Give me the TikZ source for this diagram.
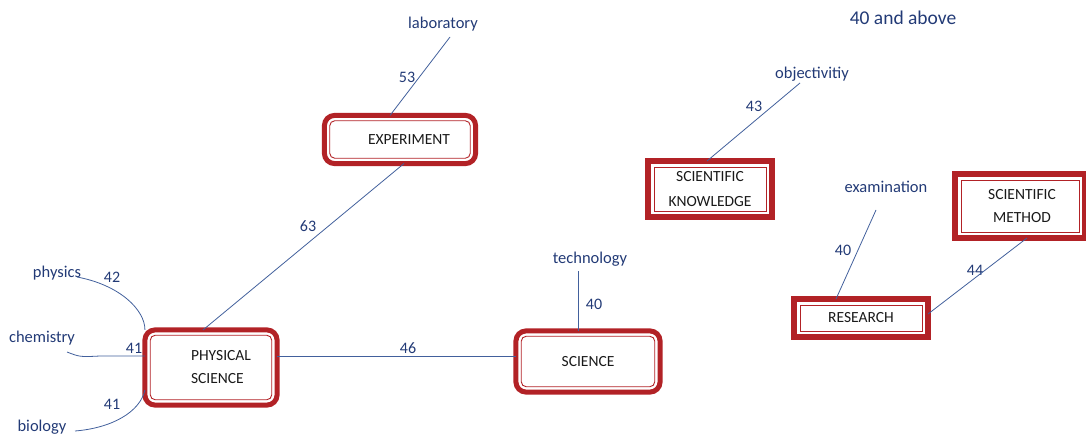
\documentclass[tikz,border=0pt]{standalone}
\usepackage{fontspec}
\setmainfont{Carlito}
\usetikzlibrary{fit,calc}
\definecolor{boxred}{RGB}{178,34,38}
\definecolor{linkblue}{RGB}{66,96,156}
\definecolor{txtblue}{RGB}{34,58,118}
\tikzset{
  inbox/.style={draw=boxred, line width=0.9pt, outer sep=0pt, inner sep=0pt, align=center,
    font=\fontsize{15.5}{23}\selectfont, text=black!90},
  rinbox/.style={inbox, rounded corners=5pt},
  routbox/.style={draw=boxred, line width=5pt, rounded corners=10pt, inner sep=5.3pt, outer sep=0pt},
  sinbox/.style={inbox},
  soutbox/.style={draw=boxred, line width=6.5pt, inner sep=6pt, outer sep=0pt},
  lbl/.style={text=txtblue, font=\fontsize{16.5}{18}\selectfont, inner sep=0pt},
  num/.style={text=txtblue, font=\fontsize{16}{18}\selectfont, inner sep=0pt},
  link/.style={draw=linkblue, line width=0.8pt}
}
\begin{document}
\begin{tikzpicture}[x=1pt,y=-1pt]
\useasboundingbox (0,0) rectangle (1086,439);
% boxes
\node[rinbox, minimum width=140.5pt, minimum height=37.5pt] (exp) at (400,139.5) {\hspace*{18pt}EXPERIMENT};
\node[routbox, fit=(exp)] (expo) {};
\node[rinbox, minimum width=121.5pt, minimum height=64.5pt, align=left] (ps) at (211,367.5) {\hspace*{20pt}PHYSICAL\\\hspace*{20pt}SCIENCE};
\node[routbox, fit=(ps)] (pso) {};
\node[rinbox, minimum width=133.5pt, minimum height=50.5pt] (sci) at (588,361.5) {SCIENCE};
\node[routbox, fit=(sci)] (scio) {};
\node[sinbox, minimum width=112pt, minimum height=44pt, font=\fontsize{15.5}{25}\selectfont] (sk) at (710,189) {SCIENTIFIC\\KNOWLEDGE};
\node[soutbox, fit=(sk)] (sko) {};
\node[sinbox, minimum width=118pt, minimum height=52pt] (sm) at (1020,206) {\hspace*{4pt}SCIENTIFIC\\\hspace*{4pt}METHOD};
\node[soutbox, fit=(sm)] (smo) {};
\node[sinbox, minimum width=122pt, minimum height=26pt] (res) at (861,318) {RESEARCH};
\node[soutbox, fit=(res)] (reso) {};
% labels
\node[lbl] (lab) at (443,24) {laboratory};
\node[lbl] (phy) at (57,273) {physics};
\node[lbl] (che) at (42,338) {chemistry};
\node[lbl] (bio) at (42,427) {biology};
\node[lbl] (tec) at (590,259) {technology};
\node[lbl] (obj) at (812,74) {objectivitiy};
\node[lbl] (exa) at (886,187) {examination};
\node[lbl, font=\fontsize{19.5}{22}\selectfont] (title) at (903,18) {40 and above};
% numbers
\node[num] (n53) at (407,77) {53};
\node[num] (n63) at (308,226) {63};
\node[num] (n42) at (112,277) {42};
\node[num] (n41a) at (134,348) {41};
\node[num] (n41b) at (112,404) {41};
\node[num] (n46) at (408,348) {46};
\node[num] (n40a) at (594,304) {40};
\node[num] (n43) at (754,106) {43};
\node[num] (n40b) at (843,250) {40};
\node[num] (n44) at (975,270) {44};
% free ends
\coordinate (labE) at (450,37);
\coordinate (phyE) at (77,277);
\coordinate (cheE) at (67,352);
\coordinate (bioE) at (75,431);
\coordinate (tecE) at (578,271);
\coordinate (objE) at (800,83);
\coordinate (exaE) at (876,210);
% connectors
\draw[link] (labE) -- ([xshift=-10pt]expo.north);
\draw[link] ([xshift=4pt]expo.south) -- ([xshift=-8pt]pso.north);
\draw[link] (phyE) .. controls (120,285) and (145,310) .. (pso.north west);
\draw[link] (cheE) .. controls (80,357) .. (100,356) -- ([yshift=11.5pt]pso.west);
\draw[link] (bioE) .. controls (112,428) and (140,412) .. ([yshift=-22.5pt]pso.west);
\draw[link] ([yshift=11.5pt]pso.east) -- ([yshift=11.5pt]pso.east -| scio.west);
\draw[link] (tecE) -- (tecE |- scio.north);
\draw[link] (objE) -- ([xshift=-3pt]sko.north);
\draw[link] (exaE) -- ([xshift=-25pt]reso.north);
\draw[link] ([xshift=7pt]smo.south) -- ([yshift=4pt]reso.east);
\end{tikzpicture}
\end{document}
